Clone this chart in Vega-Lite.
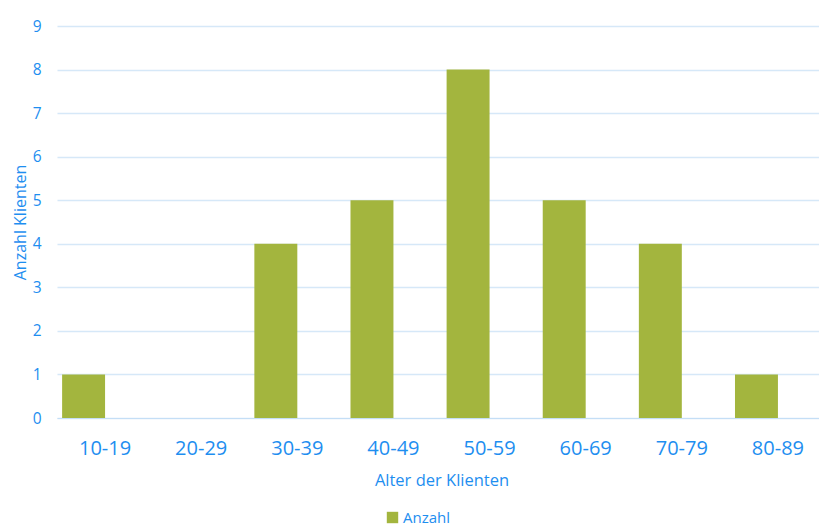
{
  "$schema": "https://vega.github.io/schema/vega-lite/v6.json",
  "width": 762,
  "height": 392,
  "autosize": {"type": "none"},
  "padding": {"left": 57, "top": 26, "right": 0, "bottom": 112},
  "config": {
    "view": {"stroke": null},
    "font": "Open Sans"
  },
  "data": {
    "values": [
      {"Alter": "10-19", "Serie": "Anzahl", "Anzahl": 1},
      {"Alter": "20-29", "Serie": "Anzahl", "Anzahl": 0},
      {"Alter": "30-39", "Serie": "Anzahl", "Anzahl": 4},
      {"Alter": "40-49", "Serie": "Anzahl", "Anzahl": 5},
      {"Alter": "50-59", "Serie": "Anzahl", "Anzahl": 8},
      {"Alter": "60-69", "Serie": "Anzahl", "Anzahl": 5},
      {"Alter": "70-79", "Serie": "Anzahl", "Anzahl": 4},
      {"Alter": "80-89", "Serie": "Anzahl", "Anzahl": 1}
    ]
  },
  "mark": {"type": "bar"},
  "encoding": {
    "x": {
      "field": "Alter",
      "type": "nominal",
      "sort": null,
      "scale": {"range": [0, 769], "paddingInner": 0, "paddingOuter": 0},
      "axis": {
        "title": "Alter der Klienten",
        "titleColor": "#1E8EF0",
        "titleFontSize": 16.5,
        "titleFontWeight": "normal",
        "titlePadding": 14,
        "labelColor": "#1E8EF0",
        "labelFontSize": 20,
        "labelAngle": 0,
        "labelPadding": 20,
        "ticks": false,
        "domain": true,
        "domainColor": "#C4DEF6",
        "grid": false
      }
    },
    "xOffset": {
      "field": "Serie",
      "type": "nominal",
      "scale": {"domain": ["Anzahl", "Leer"], "paddingInner": 0, "paddingOuter": 0.119}
    },
    "y": {
      "field": "Anzahl",
      "type": "quantitative",
      "scale": {"domain": [0, 9]},
      "axis": {
        "title": "Anzahl Klienten",
        "titleColor": "#1E8EF0",
        "titleFontSize": 16,
        "titleFontWeight": "normal",
        "titlePadding": 4,
        "labelColor": "#1E8EF0",
        "labelFontSize": 15.5,
        "labelPadding": 16,
        "labelOverlap": false,
        "values": [0, 1, 2, 3, 4, 5, 6, 7, 8, 9],
        "ticks": false,
        "domain": false,
        "grid": true,
        "gridColor": "#D6E8F8",
        "gridWidth": 1.5
      }
    },
    "color": {
      "field": "Serie",
      "type": "nominal",
      "scale": {"domain": ["Anzahl"], "range": ["#A3B53E"]},
      "legend": {
        "title": null,
        "orient": "none",
        "legendX": 328,
        "legendY": 484,
        "symbolType": "square",
        "symbolSize": 130,
        "symbolStrokeWidth": 0,
        "labelColor": "#1E8EF0",
        "labelFontSize": 15,
        "labelOffset": 3
      }
    }
  }
}
